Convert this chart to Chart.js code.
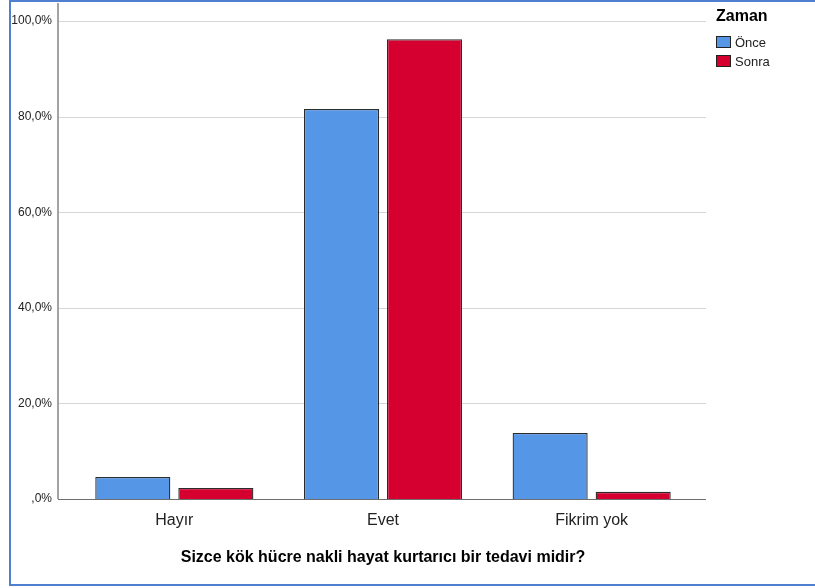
<!DOCTYPE html>
<html>
<head>
<meta charset="utf-8">
<script src="https://cdn.jsdelivr.net/npm/chart.js@4"></script>
<style>
    html, body { margin: 0; padding: 0; background: #fff; overflow: hidden; }
    #wrap { position: relative; width: 815px; height: 588px; }
    #frame { position: absolute; left: 9px; top: 0; width: 830px; height: 582px; border: 2px solid #4f7fd0; pointer-events: none; }
    canvas { position: absolute; left: 0; top: 0; }
</style>
</head>
<body>
<div id="wrap">
    <canvas id="chart" width="815" height="588"></canvas>
    <div id="frame"></div>
</div>
<script>
document.addEventListener('DOMContentLoaded', function() {
    // Data
    const categories = ['Hayır', 'Evet', 'Fikrim yok'];
    const onceValues = [4.6, 81.6, 13.8];
    const sonraValues = [2.3, 96.2, 1.5];
    const seriesNames = ['Önce', 'Sonra'];
    const yTickLabels = [',0%', '20,0%', '40,0%', '60,0%', '80,0%', '100,0%'];
    const legendTitle = 'Zaman';
    const xTitle = 'Sizce kök hücre nakli hayat kurtarıcı bir tedavi midir?';

    const FONT = '"Liberation Sans", Arial, sans-serif';

    // Gridlines, axis lines and legend drawn to match SPSS look
    const framePlugin = {
        id: 'spssFrame',
        beforeDatasetsDraw(chart) {
            const { ctx, chartArea } = chart;
            const y = chart.scales.y;
            const left = chartArea.left - 12;
            const right = chartArea.right + 10;
            ctx.save();
            ctx.strokeStyle = '#d6d6d6';
            ctx.lineWidth = 1;
            y.ticks.forEach(t => {
                if (t.value === 0) return;
                const py = Math.round(y.getPixelForValue(t.value)) + 0.5;
                ctx.beginPath();
                ctx.moveTo(left, py);
                ctx.lineTo(right, py);
                ctx.stroke();
            });
            // y axis line
            ctx.strokeStyle = '#a3a3a3';
            ctx.lineWidth = 2;
            ctx.beginPath();
            ctx.moveTo(left, chartArea.top - 18);
            ctx.lineTo(left, chartArea.bottom);
            ctx.stroke();
            // x axis line
            ctx.strokeStyle = '#6e6e6e';
            ctx.lineWidth = 1;
            const by = Math.round(y.getPixelForValue(0)) + 0.5;
            ctx.beginPath();
            ctx.moveTo(left, by);
            ctx.lineTo(right, by);
            ctx.stroke();
            ctx.restore();
        },
        afterDraw(chart) {
            const { ctx } = chart;
            const lx = 716;
            ctx.save();
            ctx.fillStyle = '#000';
            ctx.font = 'bold 16px ' + FONT;
            ctx.textBaseline = 'alphabetic';
            ctx.fillText(legendTitle, lx, 21);
            chart.data.datasets.forEach((ds, i) => {
                const by = 36 + i * 19;
                ctx.fillStyle = ds.backgroundColor;
                ctx.fillRect(lx, by, 15, 12);
                ctx.strokeStyle = '#222';
                ctx.lineWidth = 1;
                ctx.strokeRect(lx + 0.5, by + 0.5, 14, 11);
                ctx.fillStyle = '#222';
                ctx.font = '13px ' + FONT;
                ctx.textBaseline = 'middle';
                ctx.fillText(ds.label, lx + 19, by + 7);
            });
            ctx.restore();
        }
    };

    const ctx = document.getElementById('chart').getContext('2d');
    new Chart(ctx, {
        type: 'bar',
        data: {
            labels: categories,
            datasets: [
                { label: seriesNames[0], data: onceValues, backgroundColor: '#5596e6', borderColor: '#2b2b2b', borderWidth: 1.3, borderSkipped: 'start' },
                { label: seriesNames[1], data: sonraValues, backgroundColor: '#d5002f', borderColor: '#2b2b2b', borderWidth: 1.3, borderSkipped: 'start' }
            ]
        },
        options: {
            responsive: false,
            animation: false,
            layout: { padding: { left: 0, top: 21, right: 119, bottom: 0 } },
            categoryPercentage: 0.796,
            barPercentage: 0.904,
            plugins: {
                legend: { display: false },
                tooltip: { enabled: false }
            },
            scales: {
                x: {
                    grid: { display: false },
                    border: { display: false },
                    ticks: { color: '#222', font: { family: FONT, size: 16 }, padding: 4 },
                    title: {
                        display: true,
                        text: xTitle,
                        color: '#000',
                        font: { family: FONT, size: 16, weight: 'bold' },
                        padding: { top: 0, bottom: 21 }
                    },
                    afterFit(scale) { scale.height = 89; }
                },
                y: {
                    min: 0,
                    max: 100,
                    grid: { display: false },
                    border: { display: false },
                    ticks: {
                        stepSize: 20,
                        padding: 10,
                        color: '#222',
                        font: { family: FONT, size: 12 },
                        callback: (v, i) => yTickLabels[i]
                    },
                    afterFit(scale) { scale.width = 70; }
                }
            }
        },
        plugins: [framePlugin]
    });
});
</script>
</body>
</html>
